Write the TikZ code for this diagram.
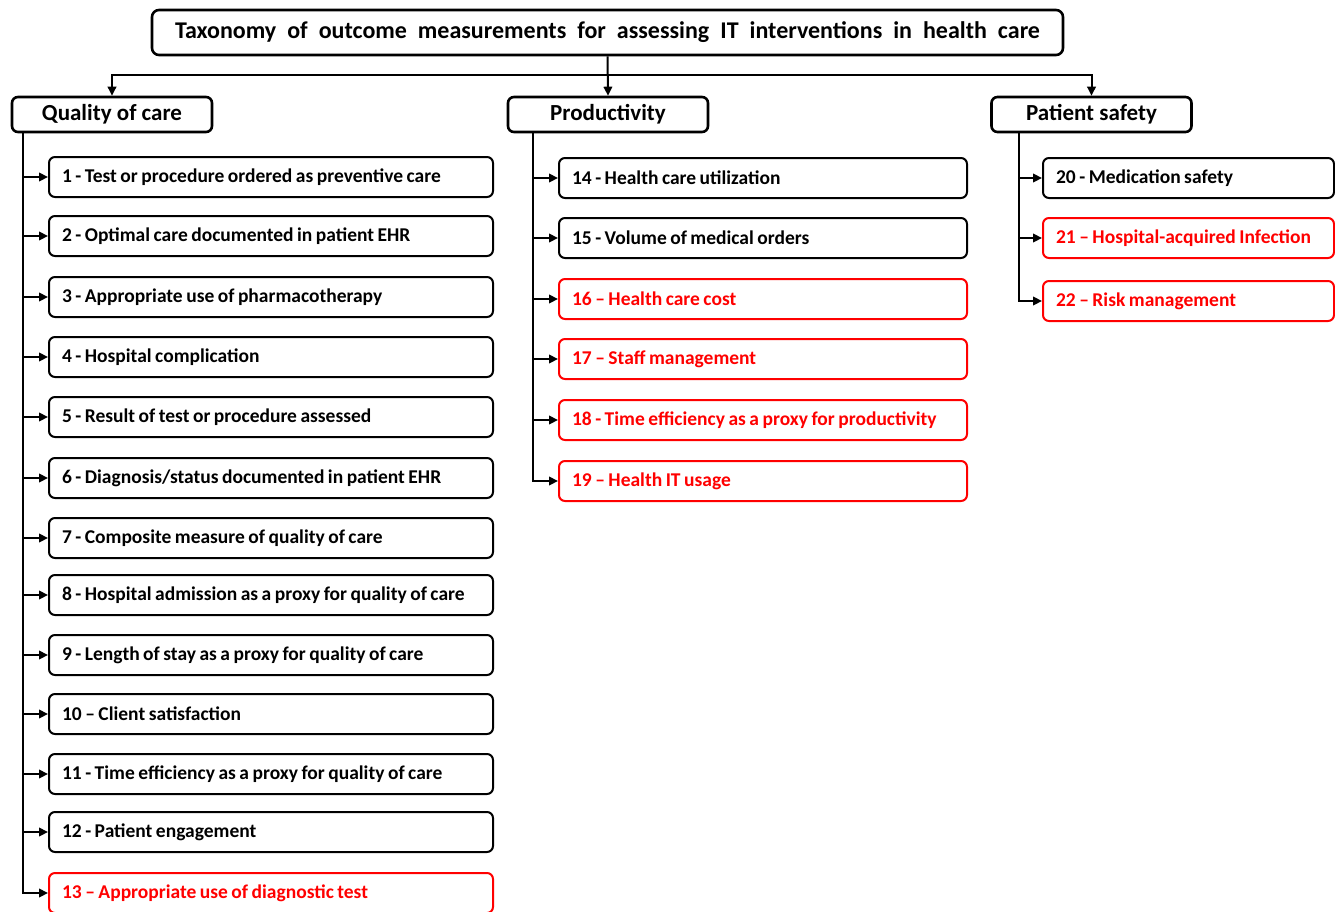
\documentclass[tikz,border=0pt]{standalone}
\usepackage{fontspec}
\setmainfont{Carlito}
\usepackage{xcolor}
\usetikzlibrary{arrows.meta, positioning}
\definecolor{alertred}{HTML}{FF0000}

\begin{document}
\begin{tikzpicture}[x=1pt, y=-1pt,
  root/.style={rectangle, draw=black, line width=2.6pt, rounded corners=7pt, minimum width=911pt, minimum height=45pt, font=\bfseries\fontsize{24}{28}\selectfont},
  category/.style={rectangle, draw=black, line width=2.6pt, rounded corners=6pt, minimum width=200pt, minimum height=35pt, font=\bfseries\fontsize{23}{26}\selectfont},
  measure/.style={rectangle, draw=black, line width=2pt, rounded corners=6pt, minimum height=40pt, inner xsep=13pt, anchor=west, font=\bfseries\fontsize{19.5}{22}\selectfont,
    execute at begin node={\spaceskip=0.18em\relax\leavevmode\hbox\bgroup}, execute at end node={\egroup}},
  newmeasure/.style={measure, draw=alertred, text=alertred},
  qbox/.style={text width=418pt},
  pbox/.style={text width=382pt},
  sbox/.style={text width=265pt},
  arrow/.style={-{Triangle[length=9pt, width=8.5pt]}, line width=2.6pt, draw=black},
  toparrow/.style={arrow, line width=2pt}
]
  \path[use as bounding box, fill=white] (0,0) rectangle (1335,911);

  \node[root] (taxo) at (607.5, 32.5) {\makebox[865pt][s]{Taxonomy of outcome measurements for assessing IT interventions in health care}};
  \node[category] (qual) at (112, 114.5) {Quality of care};
  \node[category] (prod) at (608, 114.5) {Productivity};
  \node[category] (safe) at (1091.5, 114.5) {Patient safety};

  \coordinate (hub) at (607.5, 75);
  \coordinate (qtrunk) at (23, 132);
  \coordinate (ptrunk) at (533, 132);
  \coordinate (strunk) at (1019, 132);

  % quality of care
  \node[measure, qbox] (q1) at (48, 177) {1 - Test or procedure ordered as preventive care};
  \node[measure, qbox] (q2) at (48, 236) {2 - Optimal care documented in patient EHR};
  \node[measure, qbox] (q3) at (48, 297) {3 - Appropriate use of pharmacotherapy};
  \node[measure, qbox] (q4) at (48, 357) {4 - Hospital complication};
  \node[measure, qbox] (q5) at (48, 417) {5 - Result of test or procedure assessed};
  \node[measure, qbox] (q6) at (48, 478) {6 - Diagnosis/status documented in patient EHR};
  \node[measure, qbox] (q7) at (48, 538) {7 - Composite measure of quality of care};
  \node[measure, qbox] (q8) at (48, 595) {8 - Hospital admission as a proxy for quality of care};
  \node[measure, qbox] (q9) at (48, 655) {9 - Length of stay as a proxy for quality of care};
  \node[measure, qbox] (q10) at (48, 714) {10 -- Client satisfaction};
  \node[measure, qbox] (q11) at (48, 774) {11 - Time efficiency as a proxy for quality of care};
  \node[measure, qbox] (q12) at (48, 832) {12 - Patient engagement};
  \node[newmeasure, qbox] (q13) at (48, 893) {13 -- Appropriate use of diagnostic test};

  % productivity
  \node[measure, pbox] (p14) at (558, 178) {14 - Health care utilization};
  \node[measure, pbox] (p15) at (558, 238) {15 - Volume of medical orders};
  \node[newmeasure, pbox] (p16) at (558, 299) {16 -- Health care cost};
  \node[newmeasure, pbox] (p17) at (558, 359) {17 -- Staff management};
  \node[newmeasure, pbox] (p18) at (558, 420) {18 - Time efficiency as a proxy for productivity};
  \node[newmeasure, pbox] (p19) at (558, 481) {19 -- Health IT usage};

  % patient safety
  \node[measure, sbox] (s20) at (1042, 178) {20 - Medication safety};
  \node[newmeasure, sbox] (s21) at (1042, 238) {21 -- Hospital-acquired Infection};
  \node[newmeasure, sbox] (s22) at (1042, 301) {22 -- Risk management};

  \draw[toparrow] (taxo.south) -- (prod.north);
  \draw[toparrow] (hub) -| (qual.north);
  \draw[toparrow] (hub) -| (safe.north);

  \draw[arrow] (qtrunk) |- (q1.west);
  \draw[arrow] (qtrunk) |- (q2.west);
  \draw[arrow] (qtrunk) |- (q3.west);
  \draw[arrow] (qtrunk) |- (q4.west);
  \draw[arrow] (qtrunk) |- (q5.west);
  \draw[arrow] (qtrunk) |- (q6.west);
  \draw[arrow] (qtrunk) |- (q7.west);
  \draw[arrow] (qtrunk) |- (q8.west);
  \draw[arrow] (qtrunk) |- (q9.west);
  \draw[arrow] (qtrunk) |- (q10.west);
  \draw[arrow] (qtrunk) |- (q11.west);
  \draw[arrow] (qtrunk) |- (q12.west);
  \draw[arrow] (qtrunk) |- (q13.west);

  \draw[arrow] (ptrunk) |- (p14.west);
  \draw[arrow] (ptrunk) |- (p15.west);
  \draw[arrow] (ptrunk) |- (p16.west);
  \draw[arrow] (ptrunk) |- (p17.west);
  \draw[arrow] (ptrunk) |- (p18.west);
  \draw[arrow] (ptrunk) |- (p19.west);

  \draw[arrow] (strunk) |- (s20.west);
  \draw[arrow] (strunk) |- (s21.west);
  \draw[arrow] (strunk) |- (s22.west);
\end{tikzpicture}
\end{document}
